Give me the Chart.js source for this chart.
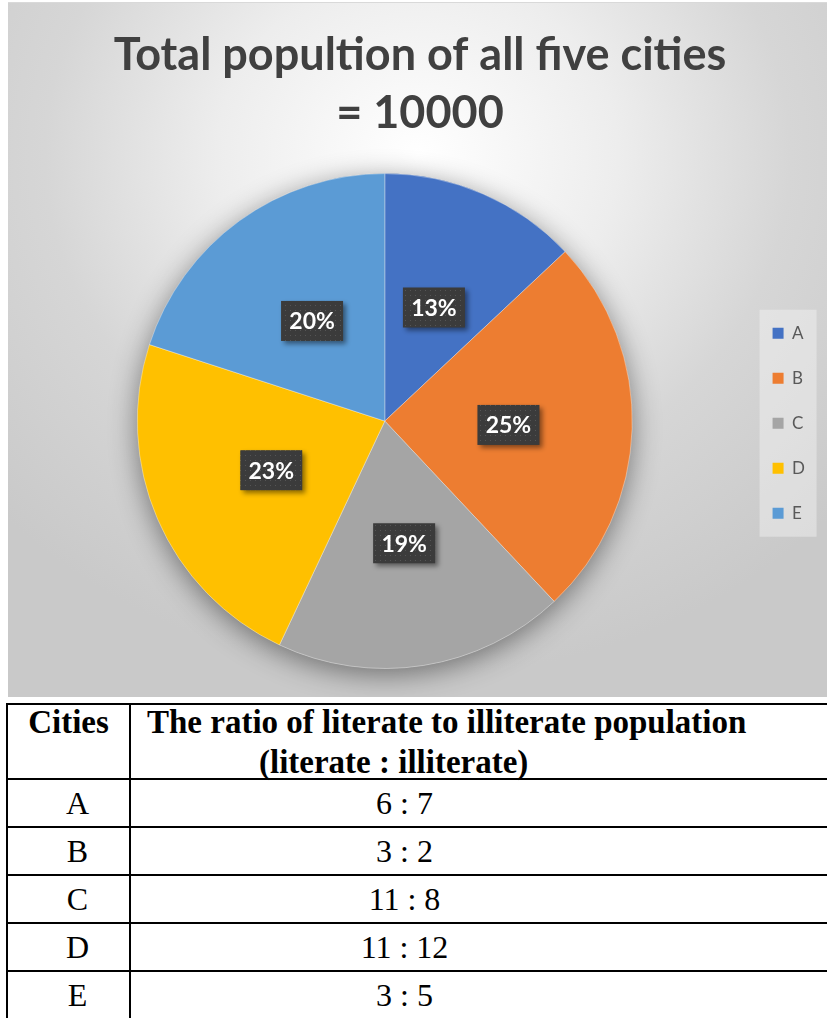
<!DOCTYPE html>
<html>
<head>
<meta charset="utf-8">
<script src="https://cdn.jsdelivr.net/npm/chart.js@4.4.1/dist/chart.umd.min.js"></script>
<style>
  body { margin: 0; background: #fff; overflow: hidden; }
  #chartBox {
    position: absolute; left: 8px; top: 3px; width: 819px; height: 694px;
    background: radial-gradient(ellipse 70% 75% at 50% 22%, #ffffff 0%, #ededed 35%, #d6d6d6 65%, #c9c9c9 100%);
  }
  #topLine { position: absolute; left: 8px; top: 2px; width: 819px; height: 1px; background: #d9d9d9; }
  #ratioTable {
    position: absolute; left: 6px; top: 703px; width: 832px;
    border-collapse: collapse; font-family: "Liberation Serif", serif; color: #000;
  }
  #ratioTable td, #ratioTable th { border: 2px solid #000; padding: 0; }
  #ratioTable th { font-weight: bold; font-size: 33px; vertical-align: top; height: 73px; }
  #ratioTable th div { height: 73px; line-height: 40px; position: relative; top: -3px; white-space: nowrap; }
  #ratioTable th.c1 { width: 121px; text-align: center; }
  #ratioTable th.c2 { text-align: left; padding-left: 16px; }
  #ratioTable th.c2 span { margin-left: 112px; }
  #ratioTable td { height: 46px; font-size: 32px; text-align: center; }
  #ratioTable td.c1 { padding-left: 18px; }
  #ratioTable td.c2 { padding-right: 158px; }
</style>
</head>
<body>
<div id="chartBox"><canvas id="pieChart"></canvas></div>
<div id="topLine"></div>
<table id="ratioTable"></table>
<script>
// data ======================================================
const cities = ["A", "B", "C", "D", "E"];
const shares = [13, 25, 19, 23, 20];          // % of total population
const literate = [6, 3, 11, 11, 3];
const illiterate = [7, 2, 8, 12, 5];
const sliceColors = ["#4472C4", "#ED7D31", "#A5A5A5", "#FFC000", "#5B9BD5"];
const titleLines = ["Total popultion of all five cities", "= 10000"];
const tableHead = ["Cities", "The ratio of literate to illiterate population", "(literate : illiterate)"];

// table =====================================================
const table = document.getElementById("ratioTable");
let html = '<tr><th class="c1"><div>' + tableHead[0] + '</div></th><th class="c2"><div>' + tableHead[1] +
  '<br><span>' + tableHead[2] + '</span></div></th></tr>';
cities.forEach(function (c, i) {
  html += '<tr><td class="c1">' + c + '</td><td class="c2">' + literate[i] + ' : ' + illiterate[i] + '</td></tr>';
});
table.innerHTML = html;

// small dotted fill for the data label boxes
const patCanvas = document.createElement("canvas");
patCanvas.width = 5; patCanvas.height = 5;
const pctx = patCanvas.getContext("2d");
pctx.fillStyle = "#3b3b3b"; pctx.fillRect(0, 0, 5, 5);
pctx.fillStyle = "#555"; pctx.fillRect(2, 2, 1, 1);

// shadow under the whole pie
const pieShadow = {
  id: "pieShadow",
  beforeDatasetsDraw(chart) {
    const arc = chart.getDatasetMeta(0).data[0];
    const ctx = chart.ctx;
    ctx.save();
    ctx.shadowColor = "rgba(0,0,0,0.45)";
    ctx.shadowBlur = 28;
    ctx.shadowOffsetY = 6;
    ctx.beginPath();
    ctx.arc(arc.x, arc.y, arc.outerRadius, 0, Math.PI * 2);
    ctx.fillStyle = "#aaa";
    ctx.fill();
    ctx.restore();
  }
};

// legend background panel
const legendPanel = {
  id: "legendPanel",
  beforeDraw(chart) {
    const boxes = chart.legend.legendHitBoxes;
    if (!boxes || !boxes.length) return;
    const first = boxes[0], last = boxes[boxes.length - 1];
    const ctx = chart.ctx;
    ctx.save();
    ctx.fillStyle = "rgba(245,245,245,0.45)";
    ctx.fillRect(first.left - 13, first.top - 15, 57, last.top + last.height - first.top + 30);
    ctx.restore();
  }
};

// dark boxed percentage labels
const boxLabels = {
  id: "boxLabels",
  afterDatasetsDraw(chart) {
    const ctx = chart.ctx;
    const meta = chart.getDatasetMeta(0);
    const pattern = ctx.createPattern(patCanvas, "repeat");
    meta.data.forEach(function (arc, i) {
      const mid = (arc.startAngle + arc.endAngle) / 2;
      const r = arc.outerRadius * 0.5;
      const x = arc.x + Math.cos(mid) * r;
      const y = arc.y + Math.sin(mid) * r;
      const w = 62, h = 40;
      ctx.save();
      ctx.shadowColor = "rgba(0,0,0,0.45)";
      ctx.shadowBlur = 5;
      ctx.shadowOffsetX = 3;
      ctx.shadowOffsetY = 3;
      ctx.fillStyle = pattern;
      ctx.fillRect(x - w / 2, y - h / 2, w, h);
      ctx.restore();
      ctx.save();
      ctx.fillStyle = "#fff";
      ctx.font = "bold 23px Lato";
      ctx.textAlign = "center";
      ctx.textBaseline = "middle";
      ctx.fillText(shares[i] + "%", x, y + 1);
      ctx.restore();
    });
  }
};

const data = {
  labels: cities,
  datasets: [
    {
      data: shares,
      backgroundColor: sliceColors,
      borderColor: "rgba(255,255,255,0.35)",
      borderWidth: 1,
      hoverOffset: 0,
    },
  ],
};

const config = {
  type: "pie",
  data: data,
  options: {
    responsive: true,
    maintainAspectRatio: false,
    animation: false,
    layout: { padding: { left: 17, right: 12, top: 0, bottom: 28 } },
    plugins: {
      title: {
        display: true,
        text: titleLines,
        color: "#404040",
        font: { family: "Lato", size: 45, weight: "bold", lineHeight: 1.29 },
        padding: { top: 23, bottom: 31 },
      },
      legend: {
        position: "right",
        title: { display: true, text: "", padding: { top: 160, bottom: 0 } },
        labels: {
          color: "#595959",
          font: { family: "Lato", size: 17 },
          boxWidth: 11,
          boxHeight: 11,
          padding: 28,
          generateLabels(chart) {
            return Chart.overrides.pie.plugins.legend.labels.generateLabels(chart).map(function (it) {
              it.lineWidth = 0;
              it.strokeStyle = it.fillStyle;
              return it;
            });
          },
        },
      },
      tooltip: { enabled: false },
    },
  },
  plugins: [legendPanel, pieShadow, boxLabels],
};

const myChart = new Chart(document.getElementById("pieChart"), config);
</script>
</body>
</html>
